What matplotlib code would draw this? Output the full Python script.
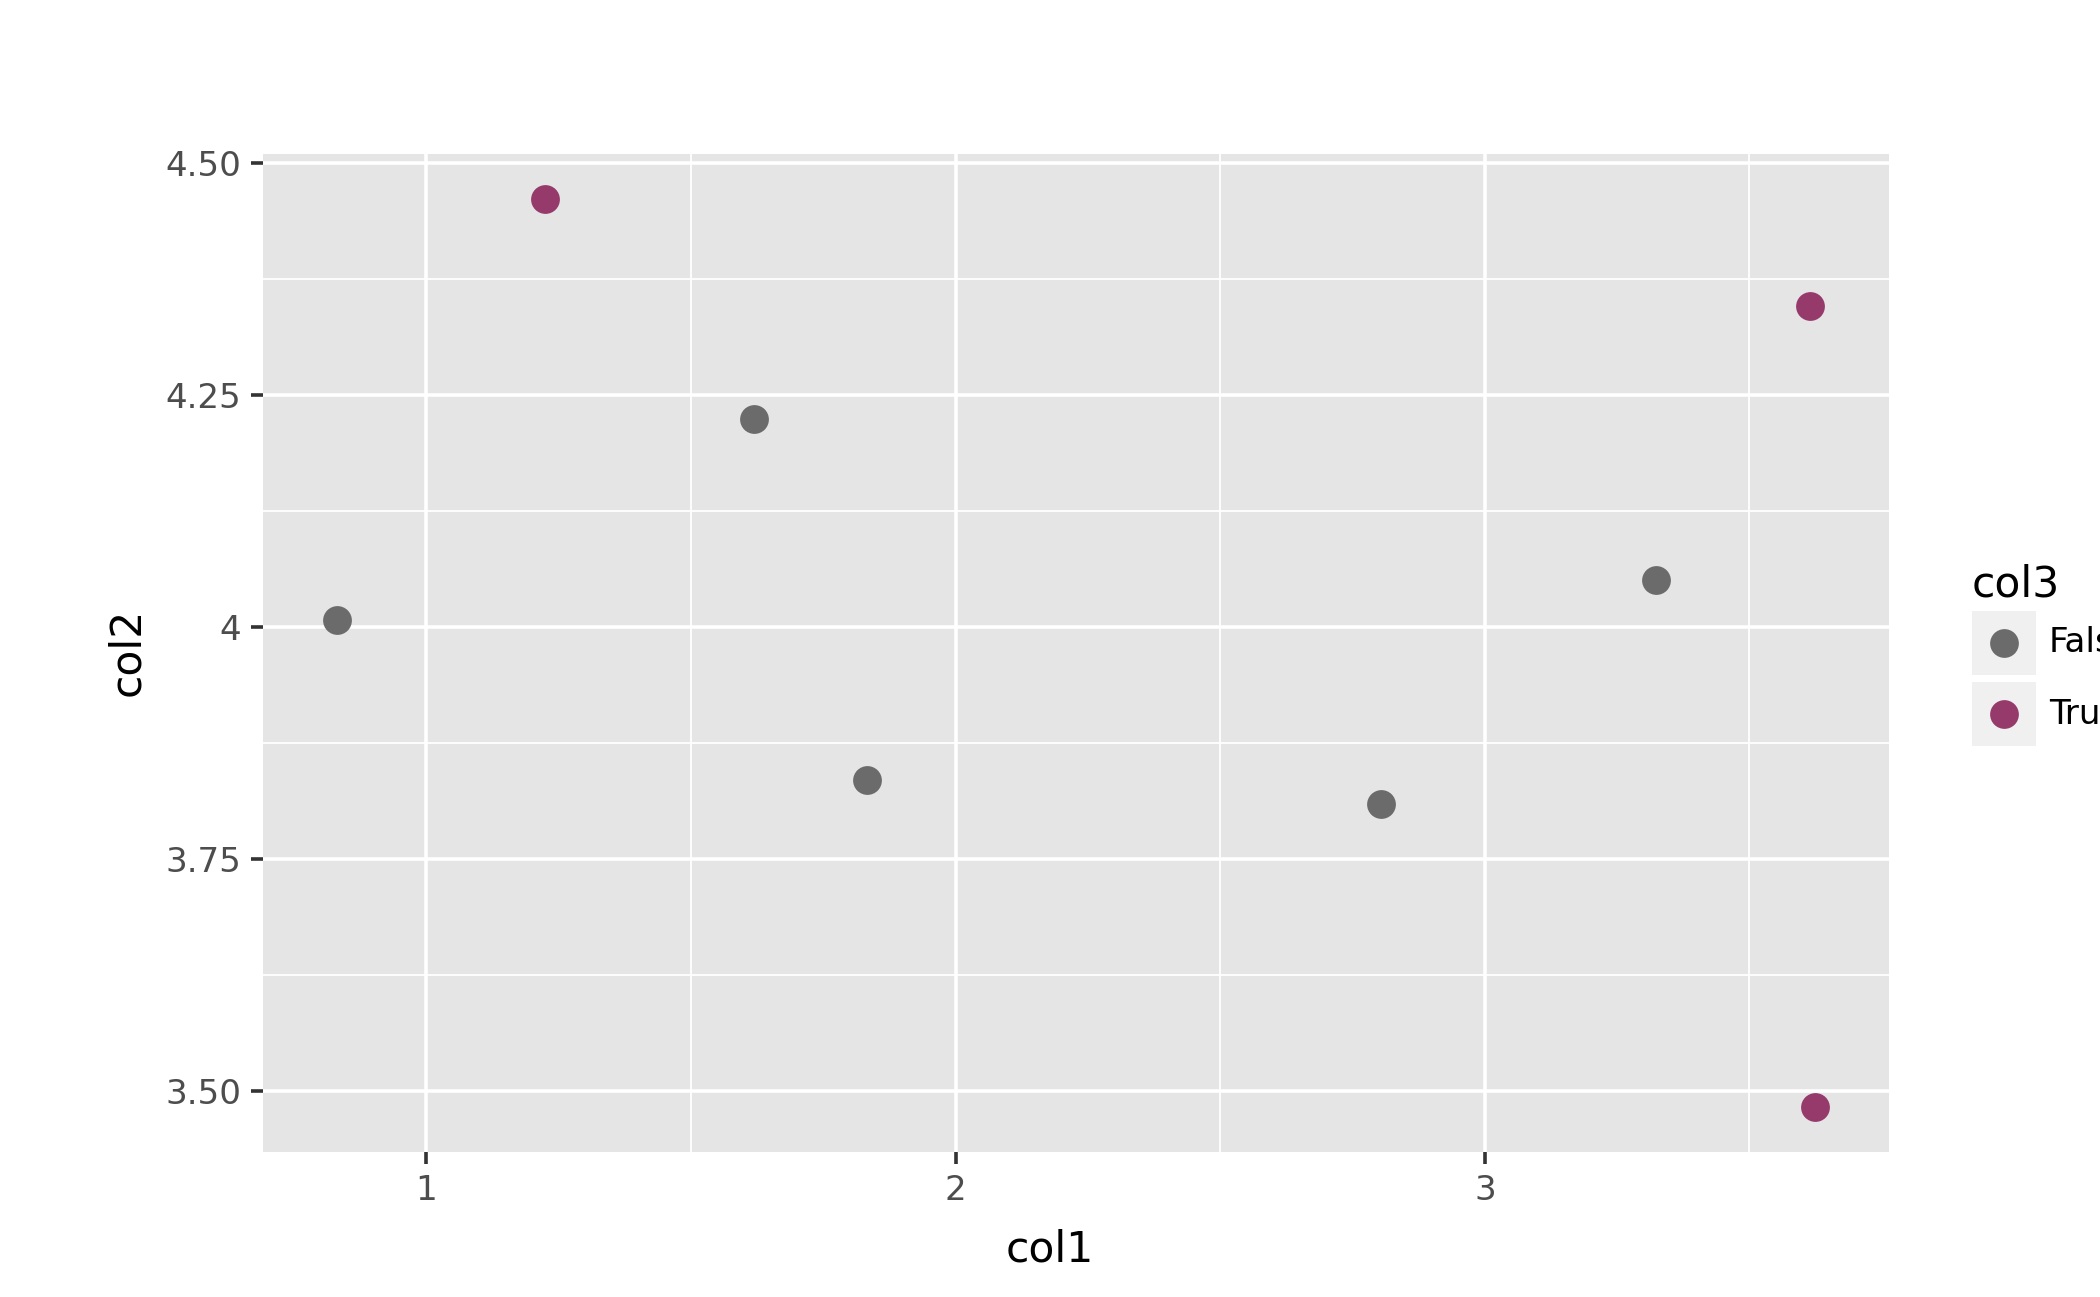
import matplotlib
matplotlib.use('Agg')
import matplotlib.pyplot as plt
from matplotlib.patches import Rectangle
from matplotlib.lines import Line2D

# data
col1 = [0.831, 1.225, 1.619, 1.832, 2.803, 3.324, 3.614, 3.624]
col2 = [4.008, 4.461, 4.224, 3.835, 3.809, 4.051, 4.346, 3.483]
col3 = [False, True, False, False, False, False, True, True]
groups = [False, True]
group_labels = ['False', 'True']
group_colors = {False: '#6b6b6b', True: '#953a6b'}
yticks = [3.5, 3.75, 4.0, 4.25, 4.5]
ytick_labels = ['3.50', '3.75', '4', '4.25', '4.50']
xticks = [1, 2, 3]

W, H = 2100, 1297
fig = plt.figure(figsize=(W / 100, H / 100), dpi=100)
ax = fig.add_axes([263 / W, 1 - 1152 / H, (1889 - 263) / W, (1152 - 154) / H])
ax.set_facecolor('#e5e5e5')
for s in ax.spines.values():
    s.set_visible(False)

for g in groups:
    xs = [x for x, c in zip(col1, col3) if c == g]
    ys = [y for y, c in zip(col2, col3) if c == g]
    ax.scatter(xs, ys, s=430, color=group_colors[g], linewidths=0, zorder=3)

# ggplot-like 5% expansion
xr = max(col1) - min(col1)
yr = max(col2) - min(col2)
ax.set_xlim(min(col1) - 0.05 * xr, max(col1) + 0.05 * xr)
ax.set_ylim(min(col2) - 0.05 * yr, max(col2) + 0.05 * yr)

ax.set_xticks(xticks)
ax.set_xticklabels([str(x) for x in xticks])
ax.set_yticks(yticks)
ax.set_yticklabels(ytick_labels)
ax.set_xticks([1.5, 2.5, 3.5], minor=True)
ax.set_yticks([3.625, 3.875, 4.125, 4.375], minor=True)
ax.grid(which='major', color='white', linewidth=2.6)
ax.grid(which='minor', color='white', linewidth=1.3)
ax.set_axisbelow(True)
ax.tick_params(which='major', length=8.5, width=2.6, color='#333333',
               labelsize=24.6, labelcolor='#4d4d4d', pad=7)
ax.tick_params(which='minor', length=0)

fig.text(1050 / W, 1 - 1262 / H, 'col1', fontsize=30.6, ha='center', va='baseline')
fig.text(127 / W, 1 - 652 / H, 'col2', fontsize=30.6, ha='center', va='center', rotation=90)

# legend
fig.text(1972 / W, 1 - 597 / H, 'col3', fontsize=30.6, ha='left', va='baseline')
key_tops = [611, 682]
for g, lab, top in zip(groups, group_labels, key_tops):
    fig.patches.append(Rectangle((1972 / W, 1 - (top + 64) / H), 64 / W, 64 / H,
                                 transform=fig.transFigure, facecolor='#f0f0f0',
                                 edgecolor='none'))
    cy = top + 32
    fig.lines.append(Line2D([2004 / W], [1 - cy / H], transform=fig.transFigure,
                            marker='o', markersize=20.7, color=group_colors[g],
                            markeredgewidth=0, linestyle='none'))
    fig.text(2049 / W, 1 - cy / H, lab, fontsize=24.6, ha='left', va='center')

fig.savefig('out.png', dpi=100)
